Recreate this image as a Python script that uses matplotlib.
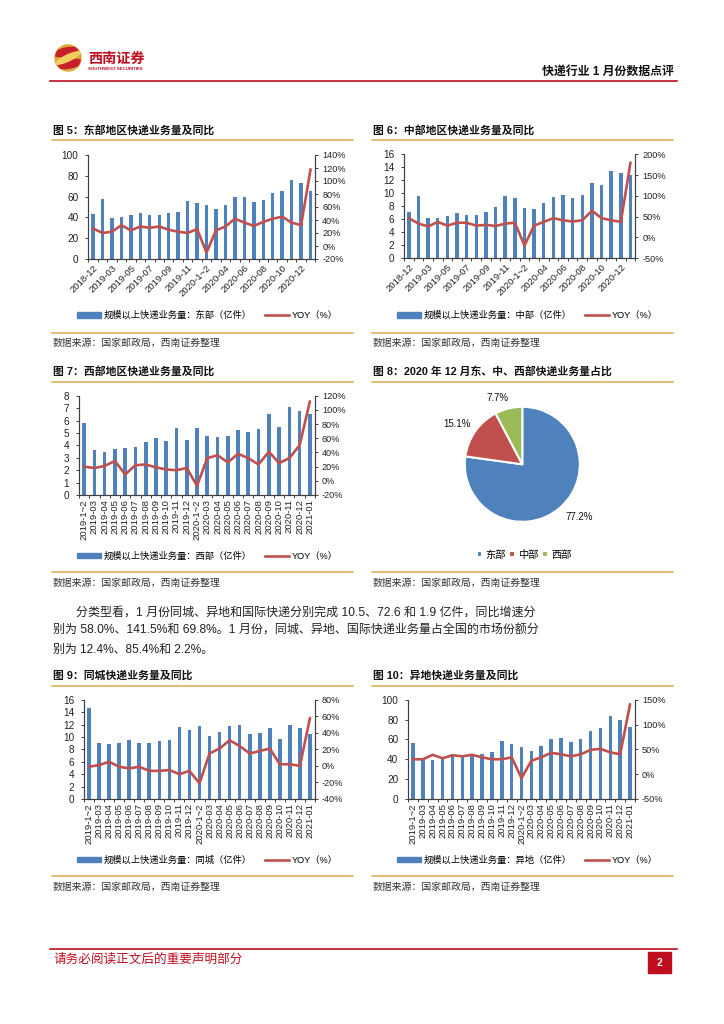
import matplotlib
matplotlib.use('Agg')
import matplotlib.pyplot as plt
from matplotlib.patches import Circle, Ellipse, Rectangle
from matplotlib.lines import Line2D

# page size in pixels, everything on the page is placed in these coordinates
W, H = 724, 1024
FONT = ['Liberation Sans', 'Noto Sans CJK SC', 'DejaVu Sans']
BLUE = '#4F81BD'
RED = '#C0504D'
GREEN = '#9BBB59'
TAN = '#E0A64B'
AXIS = '#404040'
BRAND = '#C00D1E'

# full width punctuation used in the captions and body text
COLON = '\uff1a'
COMMA = '\uff0c'
LP = '\uff08'
RP = '\uff09'

plt.rcParams['font.family'] = FONT

# categories
months_b = ['2019-1~2', '2019-03', '2019-04', '2019-05', '2019-06', '2019-07', '2019-08',
            '2019-09', '2019-10', '2019-11', '2019-12', '2020-1~2', '2020-03', '2020-04',
            '2020-05', '2020-06', '2020-07', '2020-08', '2020-09', '2020-10', '2020-11',
            '2020-12', '2021-01']
months_a = ['2018-12'] + months_b

# fig 5
east_vol = [43, 58, 39, 40, 42, 44, 42, 42, 44, 45, 56, 54, 52, 48, 52, 60, 60, 55, 57, 63, 65, 76, 73, 65]
east_yoy = [27, 20, 22, 32, 24, 30, 28, 30, 25, 22, 20, 26, -10, 24, 30, 42, 36, 31, 37, 42, 45, 36, 32, 118]
# fig 6
mid_vol = [7.1, 9.5, 6.1, 6.2, 6.5, 6.9, 6.6, 6.7, 7.1, 7.8, 9.6, 9.2, 7.7, 7.5, 8.5, 9.4, 9.7, 9.2, 9.7, 11.5, 11.3, 13.5, 13.1, 12.8]
mid_yoy = [46, 33, 26, 37, 28, 35, 35, 28, 30, 27, 33, 35, -20, 28, 37, 46, 41, 38, 41, 64, 46, 41, 37, 180]
# fig 7
west_vol = [5.8, 3.6, 3.45, 3.7, 3.8, 3.85, 4.3, 4.6, 4.35, 5.4, 4.45, 5.4, 4.75, 4.7, 4.75, 5.2, 5.1, 5.3, 6.5, 5.45, 7.1, 6.75, 6.5]
west_yoy = [20, 18, 21, 28, 9, 22, 23, 19, 16, 15, 18, -7, 32, 36, 26, 38, 32, 23, 41, 25, 32, 50, 112]
# fig 8
share_names = ['东部', '中部', '西部']
share_values = [77.2, 15.1, 7.7]
# fig 9
city_vol = [14.6, 9, 8.8, 9, 9.5, 9.1, 9.1, 9.4, 9.5, 11.6, 11.1, 11.7, 10.2, 10.8, 11.8, 11.9, 10.5, 10.7, 11.4, 9.7, 11.9, 11.4, 10.5]
city_yoy = [-1, 1, 5, -1, -3, -1, -6, -6, -5, -10, -6, -21, 15, 21, 31, 24, 15, 18, 21, 2, 2, 0, 58]
# fig 10
inter_vol = [56.5, 41, 39, 42, 45, 44, 43, 45, 47, 58, 55, 52, 48, 53, 60.5, 61, 57.5, 60, 68, 71, 83.5, 79.5, 72.5]
inter_yoy = [30, 30, 39, 32, 38, 36, 39, 34, 30, 30, 34, -8, 27, 34, 43, 40, 36, 40, 49, 51, 44, 40, 141]

fig = plt.figure(figsize=(W / 100, H / 100), dpi=100)

# full page axes for header, captions and rules
page = fig.add_axes([0, 0, 1, 1], zorder=0)
page.set_xlim(0, W)
page.set_ylim(H, 0)
page.axis('off')


def combo_chart(box, months, vol, yoy, vol_ticks, yoy_ticks, name, legend_x, legend_y, step=1, rot=45):
    x0, y0, x1, y1 = box
    ax = fig.add_axes([x0 / W, 1 - y1 / H, (x1 - x0) / W, (y1 - y0) / H], zorder=2)
    ax.patch.set_alpha(0)
    pos = list(range(len(months)))
    ax.bar(pos, vol, width=0.36, color=BLUE)
    ax.set_xlim(-0.5, len(months) - 0.5)
    ax.set_ylim(vol_ticks[0], vol_ticks[-1])
    ax.set_yticks(vol_ticks)
    ax.set_xticks(pos[::step])
    if rot == 90:
        ax.set_xticklabels(months[::step], rotation=90, ha='center', va='top', fontsize=6.8)
    else:
        ax.set_xticklabels(months[::step], rotation=45, ha='right', va='top',
                           rotation_mode='anchor', fontsize=6.8)
    ax.set_xticks([p - 0.5 for p in pos] + [len(months) - 0.5], minor=True)
    ax.tick_params(axis='x', which='major', length=0, pad=3, colors='#222222')
    ax.tick_params(axis='x', which='minor', length=2.5, width=0.7, color=AXIS)
    ax.tick_params(axis='y', length=2.5, width=0.7, color=AXIS, labelsize=7.2, pad=4.5, labelcolor='#222222')

    ax2 = ax.twinx()
    ax2.patch.set_alpha(0)
    ax2.plot(pos, yoy, color=RED, lw=1.9, solid_joinstyle='round', solid_capstyle='round')
    ax2.set_ylim(yoy_ticks[0], yoy_ticks[-1])
    ax2.set_yticks(yoy_ticks)
    ax2.set_yticklabels([f'{t}%' for t in yoy_ticks])
    ax2.tick_params(axis='y', length=2.5, width=0.7, color=AXIS, labelsize=6.6, pad=2.5, labelcolor='#222222')

    for a in (ax, ax2):
        a.spines['top'].set_visible(False)
        for side in ('left', 'right', 'bottom'):
            a.spines[side].set_color(AXIS)
            a.spines[side].set_linewidth(0.8)

    handles = [Rectangle((0, 0), 1, 1, color=BLUE), Line2D([], [], color=RED, lw=1.9)]
    labels = [f'规模以上快递业务量{COLON}{name}{LP}亿件{RP}', f'YOY{LP}%{RP}']
    ax2.legend(handles, labels, loc='center left', bbox_to_anchor=(legend_x / W, 1 - legend_y / H),
               bbox_transform=fig.transFigure, ncol=2, frameon=False, fontsize=6.7, borderpad=0,
               borderaxespad=0, handlelength=2.6, handleheight=0.55, handletextpad=0.3, columnspacing=1.4)


def caption(x0, x1, title, y_title, y_rule, y_rule2, y_source):
    page.text(x0 + 1, y_title, title, fontsize=7.8, fontweight='bold', va='center', color='#111111')
    page.plot([x0, x1], [y_rule, y_rule], color=TAN, lw=1.1)
    page.plot([x0, x1], [y_rule2, y_rule2], color=TAN, lw=1.1)
    page.text(x0 + 1, y_source, f'数据来源{COLON}国家邮政局{COMMA}西南证券整理', fontsize=7.1, va='center', color='#333333')


# header, logo built from clipped ellipses
disc = Circle((68, 58), 13, color='#DDA63A')
page.add_patch(disc)
for ex, ey, ew, eh, ang, col in [(66, 52, 24, 8, -12, '#C8202A'), (70, 64, 24, 8, -12, '#C8202A'),
                                 (68, 58, 26, 6, -25, '#F2CF63')]:
    blob = Ellipse((ex, ey), ew, eh, angle=ang, color=col)
    page.add_patch(blob)
    blob.set_clip_path(disc)
page.text(88, 59, '西南证券', fontsize=10.2, fontweight='bold', color=BRAND, va='center')
page.text(88, 69, 'SOUTHWEST SECURITIES', fontsize=3.2, fontweight='bold', color=BRAND, va='center')
page.text(674, 71.5, '快递行业 1 月份数据点评', fontsize=8.6, fontweight='bold', color='#111111', va='center', ha='right')
page.plot([50, 677], [80.5, 80.5], color=BRAND, lw=1.2)

# captions
caption(52, 353, f'图 5{COLON}东部地区快递业务量及同比', 130, 140, 332.7, 343)
caption(372, 673, f'图 6{COLON}中部地区快递业务量及同比', 130, 140, 332.7, 343)
caption(52, 353, f'图 7{COLON}西部地区快递业务量及同比', 371, 381.7, 572.3, 583.3)
caption(372, 673, f'图 8{COLON}2020 年 12 月东、中、西部快递业务量占比', 371, 381.7, 572.3, 583.3)
caption(52, 353, f'图 9{COLON}同城快递业务量及同比', 675.7, 685.7, 876.3, 886.7)
caption(372, 673, f'图 10{COLON}异地快递业务量及同比', 675.7, 685.7, 876.3, 886.7)

# charts
combo_chart((88.3, 155, 315.3, 259), months_a, east_vol, east_yoy, list(range(0, 101, 20)),
            list(range(-20, 141, 20)), '东部', 77, 315.5, step=2)
combo_chart((404, 154.3, 635.3, 258), months_a, mid_vol, mid_yoy, list(range(0, 17, 2)),
            list(range(-50, 201, 50)), '中部', 397, 315.5, step=2)
combo_chart((79, 395.7, 315, 495), months_b, west_vol, west_yoy, list(range(0, 9)),
            list(range(-20, 121, 20)), '西部', 77, 556, rot=90)
combo_chart((84, 699.7, 315, 799), months_b, city_vol, city_yoy, list(range(0, 17, 2)),
            list(range(-40, 81, 20)), '同城', 77, 860, rot=90)
combo_chart((408, 699.7, 635, 799), months_b, inter_vol, inter_yoy, list(range(0, 101, 20)),
            list(range(-50, 151, 50)), '异地', 397, 860, rot=90)

# pie, fig 8
cx, cy, r = 522.3, 464.3, 57.5
pie_ax = fig.add_axes([(cx - r) / W, 1 - (cy + r) / H, 2 * r / W, 2 * r / H], zorder=2)
pie_wedges, _ = pie_ax.pie(share_values, colors=[BLUE, RED, GREEN], startangle=90, counterclock=False,
                           radius=1.0, wedgeprops={'edgecolor': 'white', 'linewidth': 1.5})
pie_ax.set_xlim(-1, 1)
pie_ax.set_ylim(-1, 1)
for (lx, ly), v in zip([(579, 517), (456.7, 424), (498, 398)], share_values):
    page.text(lx, ly, f'{v}%', fontsize=7, ha='center', va='center', color='#111111')
pie_ax.legend(pie_wedges, share_names, loc='center', bbox_to_anchor=(524 / W, 1 - 555 / H),
              bbox_transform=fig.transFigure, ncol=3, frameon=False, fontsize=7.4, borderpad=0,
              handlelength=0.55, handleheight=0.55, handletextpad=0.3, columnspacing=0.35)

# body text, each line has its own size since the page justifies lines 1 and 2
body = [(76.5, 612.3, 8.65, f'分类型看{COMMA}1 月份同城、异地和国际快递分别完成 10.5、72.6 和 1.9 亿件{COMMA}同比增速分'),
        (53, 630.7, 8.65, f'别为 58.0%、141.5%和 69.8%。1 月份{COMMA}同城、异地、国际快递业务量占全国的市场份额分'),
        (53, 650, 8.6, '别为 12.4%、85.4%和 2.2%。')]
for bx, by, size, line in body:
    page.text(bx, by, line, fontsize=size, va='center', color='#222222')

# footer
page.plot([50, 677], [948.7, 948.7], color=BRAND, lw=1.2)
page.text(53, 959.3, '请务必阅读正文后的重要声明部分', fontsize=9.1, color=BRAND, va='center')
page.add_patch(Rectangle((648, 951.7), 23, 21.5, color=BRAND))
page.text(659.5, 962.5, '2', fontsize=7.5, fontweight='bold', color='white', ha='center', va='center')

fig.savefig('out.png', dpi=100)
